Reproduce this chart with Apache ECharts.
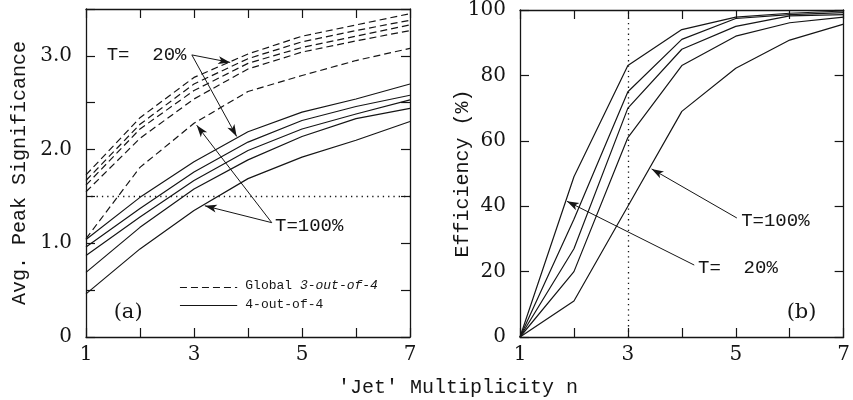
<!DOCTYPE html>
<html>
<head>
<meta charset="utf-8">
<script src="https://cdn.jsdelivr.net/npm/echarts@6/dist/echarts.min.js"></script>
<style>
  html, body { margin: 0; padding: 0; background: #fff; }
  #main { width: 853px; height: 400px; }
</style>
</head>
<body>
<div id="main"></div>
<script>
// jet multiplicity n
const nVals = [1, 2, 3, 4, 5, 6, 7];

// (a) avg peak significance, global 3-out-of-4 (dashed), T=20% .. T=100%
const glob1 = [1.73, 2.34, 2.77, 3.02, 3.21, 3.33, 3.45];
const glob2 = [1.67, 2.27, 2.70, 2.97, 3.15, 3.27, 3.38];
const glob3 = [1.62, 2.22, 2.63, 2.92, 3.09, 3.21, 3.33];
const glob4 = [1.55, 2.12, 2.54, 2.86, 3.04, 3.16, 3.27];
const glob5 = [1.05, 1.81, 2.28, 2.62, 2.79, 2.95, 3.08];

// (a) 4-out-of-4 (solid)
const four1 = [1.04, 1.49, 1.87, 2.19, 2.40, 2.54, 2.70];
const four2 = [0.96, 1.37, 1.76, 2.08, 2.31, 2.46, 2.58];
const four3 = [0.87, 1.28, 1.67, 1.99, 2.22, 2.38, 2.53];
const four4 = [0.69, 1.17, 1.58, 1.89, 2.14, 2.33, 2.44];
const four5 = [0.46, 0.94, 1.35, 1.69, 1.92, 2.10, 2.30];

// (b) efficiency in %
const eff1 = [0, 49, 83, 94, 97.8, 99.0, 99.7];
const eff2 = [0, 36, 75, 91, 97.4, 98.6, 99.2];
const eff3 = [0, 27, 70, 88, 95.0, 98.2, 98.6];
const eff4 = [0, 20, 61, 83, 92.0, 96.1, 97.8];
const eff5 = [0, 11, 40, 69, 82.2, 90.8, 95.7];

const xTickLabels = ['1', '3', '5', '7'];
const sigTickLabels = { 0: '0', 1: '1.0', 2: '2.0', 3: '3.0' };

const INK = '#151515';
const MONO = '"Liberation Mono", "DejaVu Sans Mono", monospace';
const SERIF = '"DejaVu Serif", serif';

function pairs(ys) { return nVals.map((n, i) => [n, ys[i]]); }

var chart = echarts.init(document.getElementById('main'), null, { renderer: 'canvas' });

function xAx(grid, pos) {
  return {
    type: 'value', gridIndex: grid, position: pos, min: 1, max: 7, interval: 1,
    axisLine: { show: true, onZero: false, lineStyle: { color: INK, width: 1.3 } },
    axisTick: { show: true, inside: true, length: 9, lineStyle: { color: INK, width: 1.2 } },
    splitLine: { show: false },
    axisLabel: {
      show: pos === 'bottom', margin: 8, color: INK, fontFamily: SERIF, fontSize: 20,
      formatter: v => xTickLabels.indexOf(String(v)) >= 0 ? String(v) : ''
    }
  };
}

function yAx(grid, pos, max, interval, fmt, name, nameGap) {
  return {
    type: 'value', gridIndex: grid, position: pos, min: 0, max: max, interval: interval,
    name: name, nameLocation: 'middle', nameGap: nameGap, nameMoveOverlap: false,
    nameTextStyle: { fontFamily: MONO, fontSize: 20, color: INK },
    axisLine: { show: true, onZero: false, lineStyle: { color: INK, width: 1.3 } },
    axisTick: { show: true, inside: true, length: 9, lineStyle: { color: INK, width: 1.2 } },
    splitLine: { show: false },
    axisLabel: { show: pos === 'left', margin: 14, color: INK, fontFamily: SERIF, fontSize: 20, formatter: fmt }
  };
}

const dashStyle = { color: INK, width: 1.2, type: [7, 4] };
const solidStyle = { color: INK, width: 1.2, type: 'solid' };
const dotStyle = { color: INK, width: 1.3, type: [1.3, 4] };

function line(name, ys, x, y, style) {
  return {
    type: 'line', name: name, xAxisIndex: x, yAxisIndex: y, data: pairs(ys),
    symbol: 'none', smooth: false, silent: true, animation: false,
    lineStyle: style, itemStyle: { color: INK }
  };
}

function arrow(from, to) {
  return [{ coord: from, symbol: 'none' }, { coord: to, symbol: 'arrow', symbolSize: [6, 12] }];
}

function seg(from, to, style) {
  return [{ coord: from, symbol: 'none', lineStyle: style }, { coord: to, symbol: 'none' }];
}

function note(coord, text, pos, size, font) {
  return {
    coord: coord, symbol: 'circle', symbolSize: 0,
    label: {
      show: true, position: pos, distance: 0, formatter: text, color: INK, fontFamily: font || MONO, fontSize: size,
      rich: {
        n: { fontFamily: MONO, fontSize: size, color: INK },
        i: { fontFamily: MONO, fontSize: size, color: INK, fontStyle: 'italic' }
      }
    }
  };
}

const series = [];
[glob1, glob2, glob3, glob4, glob5].forEach(g => series.push(line('Global 3-out-of-4', g, 0, 0, dashStyle)));
[four1, four2, four3, four4, four5].forEach(g => series.push(line('4-out-of-4', g, 0, 0, solidStyle)));
[eff1, eff2, eff3, eff4, eff5].forEach(g => series.push(line('eff', g, 2, 2, solidStyle)));

// panel (a): dotted reference level, arrows, key
series[9].markLine = {
  silent: true, animation: false, symbol: ['none', 'none'],
  lineStyle: { color: INK, width: 1, type: 'solid' }, label: { show: false },
  data: [
    seg([1, 1.5], [7, 1.5], dotStyle),
    arrow([2.96, 3.01], [3.67, 2.93]),
    arrow([2.96, 3.01], [3.79, 2.14]),
    arrow([4.44, 1.22], [3.20, 1.40]),
    arrow([4.44, 1.22], [3.05, 2.26]),
    seg([2.74, 0.535], [3.80, 0.535], dashStyle),
    seg([2.74, 0.34], [3.80, 0.34], solidStyle)
  ]
};
series[9].markPoint = {
  silent: true, animation: false,
  data: [
    note([2.86, 3.01], 'T=  20%', 'left', 19),
    note([4.50, 1.19], 'T=100%', 'right', 19),
    note([1.78, 0.26], '(a)', 'inside', 21, SERIF),
    note([3.95, 0.545], '{n|Global }{i|3-out-of-4}', 'right', 13),
    note([3.95, 0.35], '{n|4-out-of-4}', 'right', 13)
  ]
};

// panel (b): dotted n=3 line and arrows
series[14].markLine = {
  silent: true, animation: false, symbol: ['none', 'none'],
  lineStyle: { color: INK, width: 1, type: 'solid' }, label: { show: false },
  data: [
    seg([3, 0], [3, 100], dotStyle),
    arrow([5.02, 36.4], [3.44, 51.4]),
    arrow([4.23, 22.0], [1.87, 41.5])
  ]
};
series[14].markPoint = {
  silent: true, animation: false,
  data: [
    note([5.10, 35.6], 'T=100%', 'right', 19),
    note([4.30, 21.1], 'T=  20%', 'right', 19),
    note([6.22, 7.6], '(b)', 'inside', 21, SERIF)
  ]
};

chart.setOption({
  backgroundColor: '#fff',
  animation: false,
  title: {
    text: "'Jet' Multiplicity n", left: 333, top: 373,
    textStyle: { fontFamily: MONO, fontSize: 20, fontWeight: 'normal', color: INK }
  },
  grid: [
    { left: 86, top: 9, width: 324, height: 328 },
    { left: 520, top: 10, width: 325, height: 327 }
  ],
  xAxis: [xAx(0, 'bottom'), xAx(0, 'top'), xAx(1, 'bottom'), xAx(1, 'top')],
  yAxis: [
    yAx(0, 'left', 3.5, 0.5, v => sigTickLabels[v] !== undefined ? sigTickLabels[v] : '', 'Avg. Peak Significance', 56),
    yAx(0, 'right', 3.5, 0.5, null, '', 0),
    yAx(1, 'left', 100, 20, v => String(v), 'Efficiency (%)', 47),
    yAx(1, 'right', 100, 20, null, '', 0)
  ],
  series: series
});
</script>
</body>
</html>
